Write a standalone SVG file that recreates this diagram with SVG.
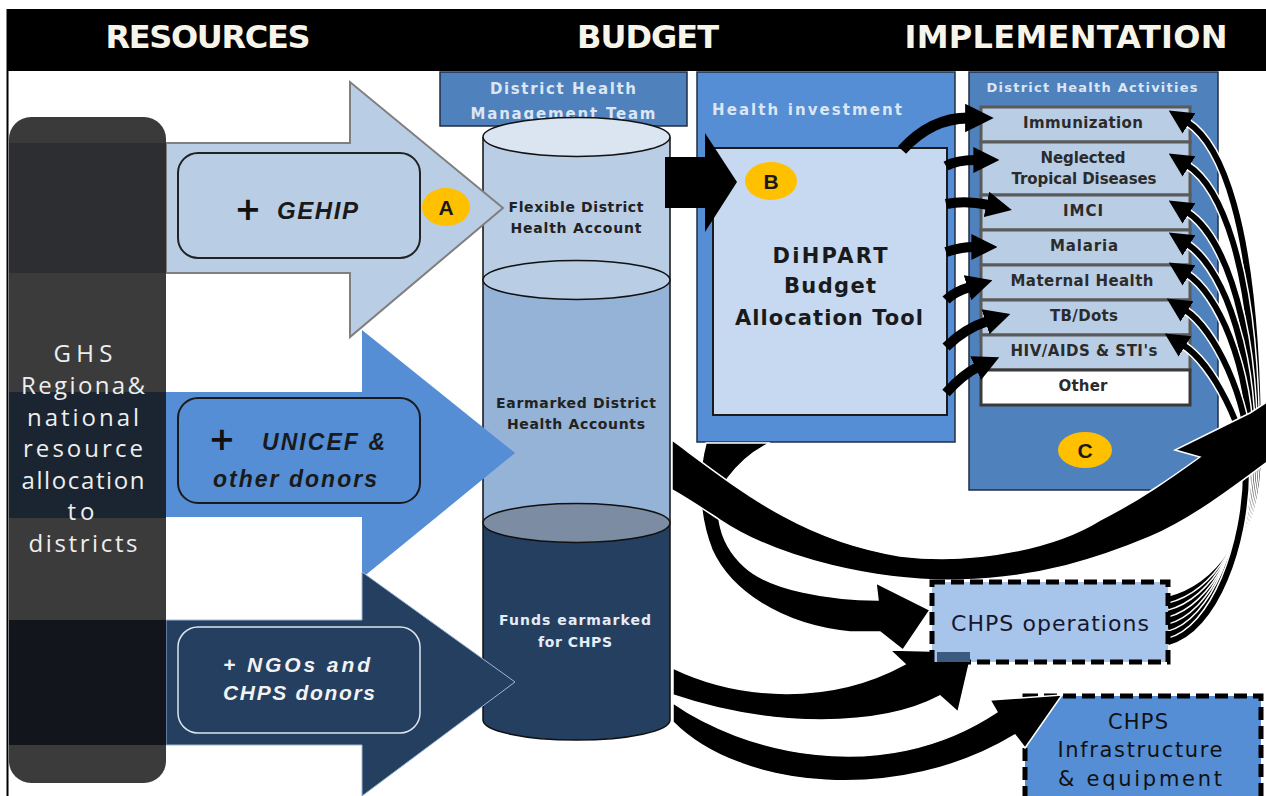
<svg xmlns="http://www.w3.org/2000/svg" width="1266" height="796" viewBox="0 0 1266 796">
<defs>
<style>
.hdr{font-family:"DejaVu Sans",sans-serif;font-weight:bold;font-size:32px;fill:#f7f5ea;text-anchor:middle}
.pan{font-family:"Open Sans","Liberation Sans",sans-serif;font-size:24px;fill:#eeeeee;text-anchor:middle}
.bi{font-family:"Liberation Sans",Arial,sans-serif;font-weight:bold;font-style:italic}
.b{font-family:"DejaVu Sans",sans-serif;font-weight:bold}
.r{font-family:"DejaVu Sans",sans-serif}
.mid{text-anchor:middle}
.act{font-family:"DejaVu Sans",sans-serif;font-weight:bold;font-size:15px;fill:#2b2b2b;text-anchor:middle}
.row{fill:#b9cde5;stroke:#5a5a5a;stroke-width:3}
.badge{fill:#ffc000}
.bl{font-family:"Liberation Sans",Arial,sans-serif;font-weight:bold;font-size:21px;fill:#1a1a1a;text-anchor:middle}
.conn{fill:#000;stroke:#fff;stroke-width:1.5}
.arc{fill:none;stroke:#000;marker-end:url(#ah)}
.sw{fill:none;stroke:#fff;stroke-width:9}
.sb{fill:none;stroke:#000;stroke-width:6;marker-end:url(#ahs)}
.dash{stroke:#000;stroke-width:5;stroke-dasharray:13 6}
.cyl{stroke:#111;stroke-width:1.5}
</style>
<marker id="ah" viewBox="0 0 10 10" refX="1" refY="5" markerWidth="2.6" markerHeight="2.8" orient="auto" markerUnits="strokeWidth"><path d="M0,0 L10,5 L0,10 z" fill="#000"/></marker>
<marker id="ahs" viewBox="0 0 10 10" refX="1" refY="5" markerWidth="4" markerHeight="4.4" orient="auto" markerUnits="strokeWidth"><path d="M0,0 L10,5 L0,10 z" fill="#000"/></marker>
<clipPath id="pclip"><rect x="9" y="117" width="157" height="666" rx="22"/></clipPath>
</defs>
<rect x="0" y="0" width="1266" height="796" fill="#fff"/>

<g id="header">
<rect x="7" y="9" width="1259" height="62" fill="#000"/>
<line x1="7.5" y1="9" x2="7.5" y2="796" stroke="#000" stroke-width="2"/>
<text class="hdr" x="208" y="48" textLength="205">RESOURCES</text>
<text class="hdr" x="648" y="48" textLength="142">BUDGET</text>
<text class="hdr" x="1066" y="48" textLength="323">IMPLEMENTATION</text>
</g>

<g id="dhmt">
<rect x="440" y="72" width="247" height="54" fill="#4f81bd" stroke="#1f2f46" stroke-width="1.5"/>
<text class="b mid" x="563" y="94" font-size="15" fill="#dce6f2" textLength="146">District  Health</text>
<text class="b mid" x="563" y="119" font-size="15" fill="#dce6f2" textLength="185">Management Team</text>
</g>

<g id="cylinder">
<rect x="483" y="137" width="187" height="143" fill="#b9cde5"/>
<rect x="483" y="280" width="187" height="243" fill="#95b3d7"/>
<path d="M483,523 L483,720 A93.5,20 0 0 0 670,720 L670,523 Z" fill="#243f60"/>
<path class="cyl" d="M483,137 L483,720 A93.5,20 0 0 0 670,720 L670,137" fill="none"/>
<ellipse class="cyl" cx="576.5" cy="137" rx="93.5" ry="19.5" fill="#dbe5f1"/>
<ellipse class="cyl" cx="576.5" cy="280" rx="93.5" ry="19.5" fill="#b9cde5"/>
<ellipse class="cyl" cx="576.5" cy="523" rx="93.5" ry="19.5" fill="#7b8ca3"/>
<text class="b mid" x="576" y="212" font-size="14" fill="#222" textLength="135">Flexible District</text>
<text class="b mid" x="576" y="233" font-size="14" fill="#222" textLength="131">Health Account</text>
<text class="b mid" x="576" y="408" font-size="14" fill="#222" textLength="160">Earmarked District</text>
<text class="b mid" x="576" y="429" font-size="14" fill="#222" textLength="138">Health Accounts</text>
<text class="b mid" x="575" y="625" font-size="14" fill="#e4ecf6" textLength="152">Funds earmarked</text>
<text class="b mid" x="575" y="647" font-size="14" fill="#e4ecf6" textLength="74">for CHPS</text>
</g>

<g id="gehip">
<polygon points="166,143 350,143 350,82 503,208 350,337 350,273 166,273" fill="#b9cde5" stroke="#7f7f7f" stroke-width="2"/>
<rect x="178" y="153" width="242" height="105" rx="20" fill="#b9cde5" stroke="#222" stroke-width="2"/>
<text class="b mid" x="248" y="220" font-size="32" fill="#111">+</text>
<text class="bi" x="277" y="219" font-size="24" fill="#1a1a1a" textLength="81">GEHIP</text>
<ellipse class="badge" cx="446" cy="207" rx="24" ry="19"/>
<text class="bl" x="446" y="215">A</text>
</g>

<g id="unicef">
<polygon points="166,392 362,392 362,330 515,453 362,578 362,517 166,517" fill="#558ed5"/>
<rect x="178" y="398" width="242" height="105" rx="20" fill="#558ed5" stroke="#1a1a1a" stroke-width="2"/>
<text class="b mid" x="222" y="450" font-size="32" fill="#111">+</text>
<text class="bi" x="262" y="450" font-size="23" fill="#1a1a1a" textLength="123">UNICEF &amp;</text>
<text class="bi" x="213" y="487" font-size="23" fill="#1a1a1a" textLength="164">other donors</text>
</g>

<g id="ngo">
<polygon points="166,620 362,620 362,572 515,682 362,796 362,745 166,745" fill="#243f60" stroke="#9fb6d6" stroke-width="1"/>
<rect x="178" y="627" width="242" height="106" rx="20" fill="#243f60" stroke="#dde4ee" stroke-width="1.5"/>
<text class="bi" x="223" y="672" font-size="21" fill="#f2f2f2" textLength="147">+  NGOs and</text>
<text class="bi" x="223" y="700" font-size="21" fill="#f2f2f2" textLength="152">CHPS donors</text>
</g>

<g id="ghs-panel">
<g clip-path="url(#pclip)">
<rect x="9" y="117" width="157" height="26" fill="#3a3a3a"/>
<rect x="9" y="143" width="157" height="130" fill="#2c2e32"/>
<rect x="9" y="273" width="157" height="119" fill="#3b3b3b"/>
<rect x="9" y="392" width="157" height="126" fill="#1b2431"/>
<rect x="9" y="518" width="157" height="102" fill="#3b3b3b"/>
<rect x="9" y="620" width="157" height="125" fill="#12161c"/>
<rect x="9" y="745" width="157" height="38" fill="#3b3b3b"/>
</g>
<text class="pan" x="83" y="362" textLength="59">GHS</text>
<text class="pan" x="83" y="394" textLength="124">Regiona&amp;</text>
<text class="pan" x="83" y="426" textLength="112">national</text>
<text class="pan" x="83" y="457" textLength="120">resource</text>
<text class="pan" x="83" y="489" textLength="123">allocation</text>
<text class="pan" x="81" y="520" textLength="27">to</text>
<text class="pan" x="83" y="552" textLength="109">districts</text>
</g>

<g id="health-investment">
<rect x="697" y="72" width="258" height="370" fill="#558ed5" stroke="#1f2f46" stroke-width="1.5"/>
<text class="b" x="712" y="115" font-size="15" fill="#dce6f2" textLength="190">Health  investment</text>
</g>

<g id="dihpart">
<rect x="713" y="148" width="234" height="267" fill="#c6d9f1" stroke="#1a1a1a" stroke-width="2"/>
<text class="b mid" x="830" y="263" font-size="21" fill="#1a1a1a" textLength="115">DiHPART</text>
<text class="b mid" x="830" y="293" font-size="21" fill="#1a1a1a" textLength="92">Budget</text>
<text class="b mid" x="829" y="325" font-size="21" fill="#1a1a1a" textLength="188">Allocation  Tool</text>
<ellipse class="badge" cx="771" cy="181" rx="26" ry="19"/>
<text class="bl" x="771" y="189">B</text>
</g>

<g id="activities">
<rect x="969" y="72" width="249" height="418" fill="#4f81bd" stroke="#1f2f46" stroke-width="1.5"/>
<text class="b mid" x="1092" y="92" font-size="13" fill="#dce6f2" textLength="211">District Health Activities</text>
<rect class="row" x="981" y="107" width="209" height="35"/>
<rect class="row" x="981" y="142" width="209" height="53"/>
<rect class="row" x="981" y="195" width="209" height="35"/>
<rect class="row" x="981" y="230" width="209" height="35"/>
<rect class="row" x="981" y="265" width="209" height="35"/>
<rect class="row" x="981" y="300" width="209" height="35"/>
<rect class="row" x="981" y="335" width="209" height="35"/>
<rect x="981" y="370" width="209" height="35" fill="#fff" stroke="#3a3a3a" stroke-width="3"/>
<text class="act" x="1083" y="128" textLength="120">Immunization</text>
<text class="act" x="1083" y="163" textLength="85">Neglected</text>
<text class="act" x="1084" y="184" textLength="145">Tropical Diseases</text>
<text class="act" x="1083" y="216" textLength="40">IMCI</text>
<text class="act" x="1084" y="251" textLength="68">Malaria</text>
<text class="act" x="1082" y="286" textLength="143">Maternal Health</text>
<text class="act" x="1084" y="321" textLength="68">TB/Dots</text>
<text class="act" x="1084" y="356" textLength="147">HIV/AIDS &amp; STI's</text>
<text class="act" x="1083" y="391" textLength="49">Other</text>
<ellipse class="badge" cx="1085" cy="450" rx="27" ry="18"/>
<text class="bl" x="1085" y="458">C</text>
</g>

<g id="chps-infrastructure">
<rect class="dash" x="1025" y="696" width="236" height="110" fill="#558ed5"/>
<text class="r mid" x="1138" y="729" font-size="21" fill="#111" textLength="60">CHPS</text>
<text class="r mid" x="1140" y="757" font-size="21" fill="#111" textLength="165">Infrastructure</text>
<text class="r mid" x="1140" y="786" font-size="21" fill="#111" textLength="164">&amp; equipment</text>
</g>

<g id="connectors">
<polygon points="665,157 705,157 705,133 737,182 705,232 705,208 665,208" fill="#000"/>
<path class="arc" stroke-width="11" d="M902,150 C922,128 945,118 968,118"/>
<path class="arc" stroke-width="10" d="M946,166 C955,161 964,160 976,160"/>
<path class="arc" stroke-width="10" d="M946,204 C960,201 975,202 989,205"/>
<path class="arc" stroke-width="10" d="M946,252 C955,249 964,247 974,247"/>
<path class="arc" stroke-width="10" d="M946,300 C952,294 960,290 970,287"/>
<path class="arc" stroke-width="10" d="M946,347 C958,335 972,326 988,321"/>
<path class="arc" stroke-width="10" d="M946,393 C955,383 965,373 978,367"/>

<path class="sw" d="M1168,600 C1215,588 1258,540 1258,450 C1258,212 1217,141 1187,122"/>
<path class="sb" d="M1168,600 C1215,588 1258,540 1258,450 C1258,212 1217,141 1187,122"/>
<path class="sw" d="M1168,607 C1215,595 1256,540 1256,450 C1256,255 1217,184 1187,165"/>
<path class="sb" d="M1168,607 C1215,595 1256,540 1256,450 C1256,255 1217,184 1187,165"/>
<path class="sw" d="M1168,614 C1215,602 1254,540 1254,450 C1254,302 1217,231 1187,212"/>
<path class="sb" d="M1168,614 C1215,602 1254,540 1254,450 C1254,302 1217,231 1187,212"/>
<path class="sw" d="M1168,621 C1215,609 1252,540 1252,450 C1252,334 1217,263 1187,244"/>
<path class="sb" d="M1168,621 C1215,609 1252,540 1252,450 C1252,334 1217,263 1187,244"/>
<path class="sw" d="M1168,628 C1215,616 1250,540 1250,450 C1250,364 1217,293 1187,274"/>
<path class="sb" d="M1168,628 C1215,616 1250,540 1250,450 C1250,364 1217,293 1187,274"/>
<path class="sw" d="M1168,635 C1215,623 1248,540 1248,455 C1248,400 1215,329 1185,310"/>
<path class="sb" d="M1168,635 C1215,623 1248,540 1248,455 C1248,400 1215,329 1185,310"/>
<path class="sw" d="M1168,642 C1215,630 1246,545 1246,470 C1246,430 1213,364 1183,345"/>
<path class="sb" d="M1168,642 C1215,630 1246,545 1246,470 C1246,430 1213,364 1183,345"/>

<path class="conn" d="M706,443 C696,480 700,520 712,550 C730,590 780,625 850,632 L880,632 L903,650 L930,610 L876,583 L878,600 C830,600 770,590 745,567 C715,540 712,500 728,478 C740,462 755,450 770,443 Z"/>
<path class="conn" d="M672,440 C740,490 800,540 900,556 C980,566 1060,545 1100,520 C1140,500 1175,475 1200,457 L1175,450 L1250,413 L1270,400 L1270,460 C1230,490 1190,520 1150,537 C1100,558 1040,578 960,580 C880,582 780,560 720,520 C700,507 685,497 672,490 Z"/>
<path class="conn" d="M673,668 C740,700 830,705 905,664 L890,650 L972,652 L958,712 L940,696 C880,728 770,728 673,695 Z"/>
<path class="conn" d="M673,703 C740,750 880,790 997,712 L990,700 L1062,695 L1025,748 L1015,735 C900,805 740,790 673,722 Z"/>
</g>

<g id="chps-operations">
<rect class="dash" x="932" y="582" width="236" height="80" fill="#a7c4ea"/>
<rect x="937" y="652" width="33" height="10" fill="#3a5a80"/>
<text class="r mid" x="1050" y="631" font-size="22" fill="#16162e" textLength="198">CHPS operations</text>
</g>
</svg>
